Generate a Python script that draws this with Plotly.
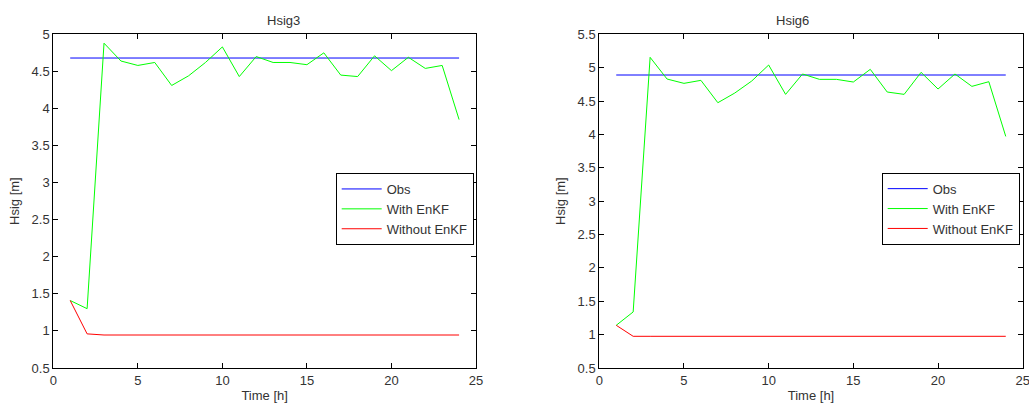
import plotly.graph_objects as go

hours = list(range(1, 25))

# Hsig3
obs3 = [4.68] * 24
enkf3 = [1.41, 1.30, 4.88, 4.64, 4.58, 4.62, 4.31, 4.44, 4.62, 4.83, 4.43, 4.70,
         4.62, 4.62, 4.59, 4.75, 4.45, 4.43, 4.71, 4.51, 4.69, 4.54, 4.58, 3.85]
noenkf3 = [1.41, 0.96] + [0.945] * 22

# Hsig6
obs6 = [4.89] * 24
enkf6 = [1.14, 1.34, 5.155, 4.83, 4.765, 4.81, 4.475, 4.62, 4.80, 5.04, 4.60, 4.905,
         4.825, 4.825, 4.785, 4.975, 4.635, 4.60, 4.93, 4.68, 4.905, 4.72, 4.79, 3.97]
noenkf6 = [1.14] + [0.975] * 23

titles = ["Hsig3", "Hsig6"]
x_ticks = [0, 5, 10, 15, 20, 25]
y_ticks_left = [0.5, 1, 1.5, 2, 2.5, 3, 3.5, 4, 4.5, 5]
y_ticks_right = [0.5, 1, 1.5, 2, 2.5, 3, 3.5, 4, 4.5, 5, 5.5]

W, H = 1029, 403
BLUE, GREEN, RED = "#0000ff", "#00ff00", "#ff0000"
FONT = "Liberation Sans, Arial, sans-serif"
TXT = "#333333"
FS = 13

fig = go.Figure()

def add_series(xa, ya, leg, obs, enkf, noenkf):
    fig.add_trace(go.Scatter(x=hours, y=obs, mode="lines", name="Obs",
                             line=dict(color=BLUE, width=1), xaxis=xa, yaxis=ya, legend=leg))
    fig.add_trace(go.Scatter(x=hours, y=enkf, mode="lines", name="With EnKF",
                             line=dict(color=GREEN, width=1), xaxis=xa, yaxis=ya, legend=leg))
    fig.add_trace(go.Scatter(x=hours, y=noenkf, mode="lines", name="Without EnKF",
                             line=dict(color=RED, width=1), xaxis=xa, yaxis=ya, legend=leg))

add_series("x", "y", "legend", obs3, enkf3, noenkf3)
add_series("x2", "y2", "legend2", obs6, enkf6, noenkf6)

ytop = 1 - 34.3 / H
ybot = 1 - 368 / H

def xax(domain):
    return dict(domain=domain, range=[0, 25], tickvals=x_ticks, ticks="inside", ticklen=5,
                tickcolor="black", showline=True, linecolor="black", linewidth=1, mirror="ticks",
                showgrid=False, zeroline=False, automargin=False, ticklabeloverflow="allow",
                tickfont=dict(family=FONT, size=FS, color=TXT),
                title=dict(text="Time [h]", font=dict(family=FONT, size=FS, color=TXT), standoff=4))

def yax(anchor, rng, ticks):
    return dict(domain=[ybot, ytop], range=rng, tickvals=ticks, ticks="inside", ticklen=5,
                tickcolor="black", showline=True, linecolor="black", linewidth=1, mirror="ticks",
                showgrid=False, zeroline=False, anchor=anchor, automargin=False,
                tickfont=dict(family=FONT, size=FS, color=TXT),
                title=dict(text="Hsig [m]", font=dict(family=FONT, size=FS, color=TXT), standoff=9))

leg_common = dict(bgcolor="white", bordercolor="black", borderwidth=1,
                  font=dict(family=FONT, size=FS, color=TXT), xanchor="left", yanchor="top",
                  tracegroupgap=0, itemwidth=40)

fig.update_layout(
    width=W, height=H, margin=dict(l=0, r=0, t=0, b=0, autoexpand=False),
    paper_bgcolor="white", plot_bgcolor="white",
    xaxis=dict(**xax([53.3 / W, 476 / W]), anchor="y"),
    yaxis=yax("x", [0.5, 5], y_ticks_left),
    xaxis2=dict(**xax([599.3 / W, 1022.7 / W]), anchor="y2"),
    yaxis2=yax("x2", [0.5, 5.5], y_ticks_right),
    legend=dict(**leg_common, x=335.7 / W, y=1 - 173 / H),
    legend2=dict(**leg_common, x=881.7 / W, y=1 - 172.7 / H),
    showlegend=True,
    annotations=[
        dict(text=titles[0], x=(53.3 + 476) / 2 / W, y=1 - 20 / H, xref="paper", yref="paper",
             showarrow=False, yanchor="middle", font=dict(family=FONT, size=FS, color=TXT)),
        dict(text=titles[1], x=(599.3 + 1022.7) / 2 / W, y=1 - 20 / H, xref="paper", yref="paper",
             showarrow=False, yanchor="middle", font=dict(family=FONT, size=FS, color=TXT)),
    ],
)

fig.write_html("out.html", config={"displayModeBar": False},
               post_script="document.body.style.margin='0';document.body.style.overflow='hidden';")
